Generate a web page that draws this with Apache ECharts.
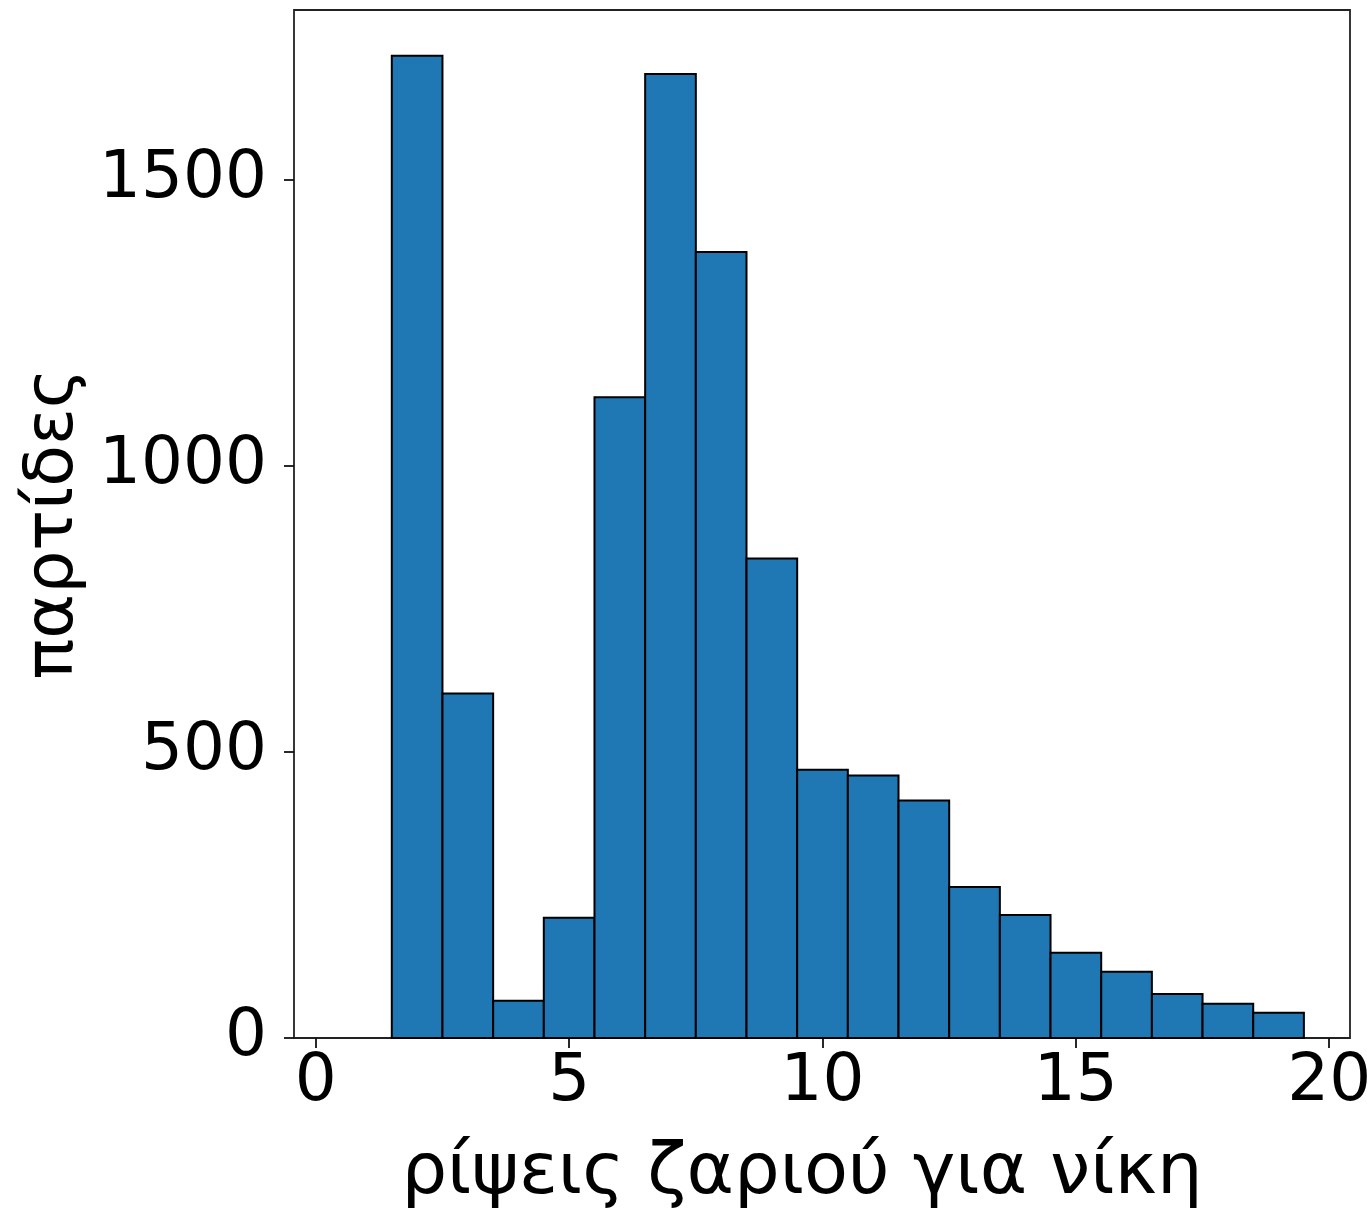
<!DOCTYPE html>
<html>
<head>
<meta charset="utf-8">
<script src="https://cdn.jsdelivr.net/npm/echarts@6/dist/echarts.min.js"></script>
<style>
  html, body { margin: 0; padding: 0; background: #fff; }
  #main { width: 1367px; height: 1214px; }
</style>
</head>
<body>
<div id="main"></div>
<script>
    // histogram: bin centres (width 1) and counts
    var binCenters = [2, 3, 4, 5, 6, 7, 8, 9, 10, 11, 12, 13, 14, 15, 16, 17, 18, 19];
    var counts = [1717, 602, 65, 210, 1120, 1685, 1374, 838, 469, 459, 415, 264, 215, 149, 116, 77, 60, 44];
    var xTicks = [0, 5, 10, 15, 20];
    var yTicks = [0, 500, 1000, 1500];

    var data = binCenters.map(function (c, i) { return [c, counts[i]]; });
    var font = 'DejaVu Sans';

    var myChart = echarts.init(document.getElementById('main'));
    var option1 = {
        animation: false,
        backgroundColor: '#fff',
        grid: {
            left: 294,
            top: 10,
            right: 17,
            bottom: 176,
            outerBoundsMode: 'none',
            containLabel: false,
            show: true,
            borderColor: '#222',
            borderWidth: 1.8
        },
        xAxis: {
            type: 'value',
            min: -0.43,
            max: 20.41,
            name: 'ρίψεις ζαριού για νίκη',
            nameLocation: 'middle',
            nameGap: 100,
            nameTextStyle: { fontFamily: font, fontSize: 72, color: '#000', padding: [0, 40, 0, 0] },
            splitLine: { show: false },
            axisLine: { show: false, onZero: false },
            axisTick: { show: true, length: 10, lineStyle: { color: '#111', width: 1.8 }, customValues: xTicks },
            axisLabel: { fontFamily: font, fontSize: 66, color: '#000', margin: 12, customValues: xTicks,
                formatter: function (v) { return String(v); } }
        },
        yAxis: {
            type: 'value',
            min: 0,
            max: 1797,
            name: 'παρτίδες',
            nameLocation: 'middle',
            nameGap: 205,
            nameTextStyle: { fontFamily: font, fontSize: 68, color: '#000' },
            splitLine: { show: false },
            axisLine: { show: false, onZero: false },
            axisTick: { show: true, length: 10, lineStyle: { color: '#111', width: 1.8 }, customValues: yTicks },
            axisLabel: { fontFamily: font, fontSize: 66, color: '#000', margin: 27, customValues: yTicks,
                formatter: function (v) { return String(v); } }
        },
        series: [
            {
                type: 'custom',
                data: data,
                renderItem: function (params, api) {
                    var x = api.value(0);
                    var v = api.value(1);
                    var p0 = api.coord([x - 0.5, v]);
                    var p1 = api.coord([x + 0.5, 0]);
                    return {
                        type: 'rect',
                        shape: { x: p0[0], y: p0[1], width: p1[0] - p0[0], height: p1[1] - p0[1] },
                        style: { fill: '#1f77b4', stroke: '#000', lineWidth: 2 }
                    };
                }
            }
        ]
    };
    myChart.setOption(option1);
</script>
</body>
</html>
